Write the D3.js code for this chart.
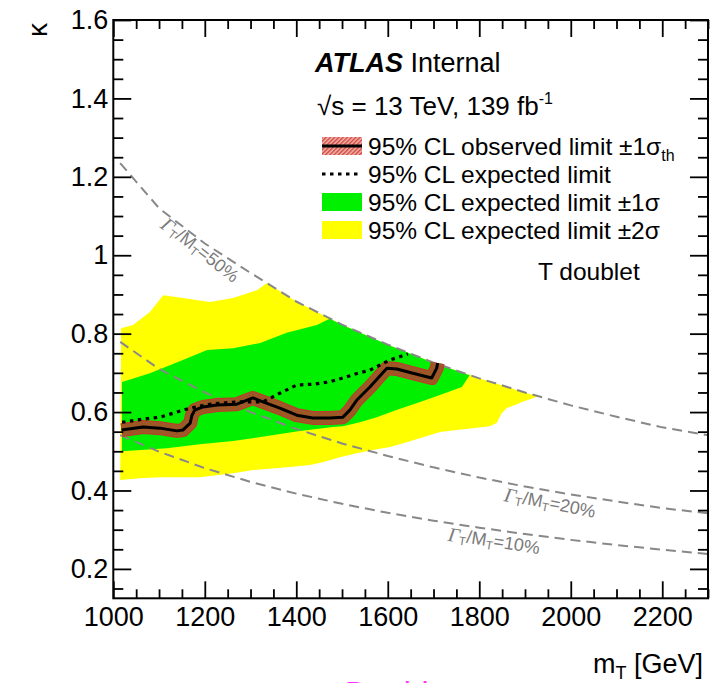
<!DOCTYPE html>
<html>
<head>
<meta charset="utf-8">
<script src="https://cdn.jsdelivr.net/npm/d3@7"></script>
<style>
  body { margin: 0; background: #fff; }
  text { font-family: "Liberation Sans", Arial, sans-serif; }
</style>
</head>
<body>
<svg id="chart"></svg>
<script>
// values: [mass in GeV, kappa]
const obsLimit = [[1018,0.554],[1065,0.562],[1102,0.559],[1139,0.552],[1152,0.554],[1168,0.572],[1172,0.592],
  [1178,0.605],[1196,0.613],[1227,0.618],[1270,0.620],[1283,0.626],[1305,0.636],[1327,0.626],[1364,0.610],
  [1401,0.592],[1436,0.585],[1473,0.585],[1502,0.587],[1517,0.605],[1532,0.630],[1561,0.664],[1598,0.712],
  [1620,0.710],[1655,0.699],[1696,0.687],[1707,0.712],[1709,0.725]];
const expLimit = [[1019,0.574],[1065,0.582],[1102,0.587],[1139,0.600],[1168,0.610],[1211,0.620],[1270,0.626],
  [1327,0.626],[1364,0.648],[1401,0.669],[1436,0.671],[1473,0.677],[1502,0.687],[1535,0.699],[1561,0.707],
  [1605,0.733],[1644,0.748]];
const band1sUpper = [[1019,0.677],[1080,0.699],[1152,0.733],[1205,0.758],[1262,0.763],[1321,0.776],[1379,0.802],
  [1445,0.822],[1473,0.838],[1500,0.823],[1600,0.772],[1700,0.726],[1779,0.694]];
const band1sLower = [[1019,0.500],[1117,0.508],[1189,0.518],[1262,0.526],[1336,0.539],[1408,0.552],[1480,0.562],
  [1502,0.564],[1539,0.574],[1576,0.587],[1619,0.605],[1677,0.628],[1720,0.646],[1762,0.664],[1779,0.694]];
const band2sUpper = [[1017,0.814],[1043,0.822],[1080,0.855],[1109,0.898],[1152,0.891],[1211,0.881],[1262,0.891],
  [1314,0.911],[1336,0.929],[1400,0.882],[1500,0.823],[1600,0.772],[1700,0.726],[1800,0.686],[1900,0.650],[1928,0.640]];
const band2sLower = [[1015,0.427],[1065,0.432],[1109,0.434],[1189,0.434],[1262,0.444],[1305,0.452],[1386,0.460],
  [1430,0.465],[1458,0.472],[1495,0.485],[1532,0.495],[1567,0.503],[1605,0.511],[1641,0.523],[1677,0.536],
  [1714,0.549],[1751,0.554],[1786,0.559],[1823,0.564],[1838,0.572],[1849,0.597],[1860,0.610],[1895,0.626],[1928,0.640]];
const width50 = [[1015,1.235],[1100,1.12],[1200,1.03],[1300,0.955],[1400,0.882],[1500,0.823],[1600,0.772],
  [1700,0.726],[1800,0.686],[1900,0.650],[2000,0.617],[2100,0.588],[2200,0.561],[2300,0.541]];
const width20 = [[1015,0.779],[1100,0.71],[1200,0.65],[1300,0.60],[1400,0.557],[1500,0.52],[1600,0.488],
  [1700,0.459],[1800,0.433],[1900,0.41],[2000,0.39],[2100,0.372],[2200,0.355],[2300,0.342]];
const width10 = [[1015,0.541],[1100,0.499],[1200,0.457],[1300,0.422],[1400,0.392],[1500,0.366],[1600,0.343],
  [1700,0.323],[1800,0.305],[1900,0.289],[2000,0.274],[2100,0.261],[2200,0.249],[2300,0.238]];
const xTicks = [1000,1200,1400,1600,1800,2000,2200];
const yTicks = [0.2,0.4,0.6,0.8,1.0,1.2,1.4,1.6];
const legendLabels = ["95% CL observed limit \u00b11\u03c3", "95% CL expected limit",
  "95% CL expected limit \u00b11\u03c3", "95% CL expected limit \u00b12\u03c3"];

// frame of the plot
var frame = {left: 113.3, right: 708, top: 20, bottom: 598.3};
var svg = d3.select("#chart").attr("width", 710).attr("height", 683);

var x = d3.scaleLinear().domain([1000, 2300]).range([frame.left, frame.right]);
var y = d3.scaleLinear().domain([0.125, 1.6]).range([frame.bottom, frame.top]);

var line = d3.line().x(d => x(d[0])).y(d => y(d[1]));

// hatch patterns for the observed band
var defs = svg.append("defs");
var hp = defs.append("pattern").attr("id", "hatchPlot").attr("patternUnits", "userSpaceOnUse")
    .attr("width", 3).attr("height", 3).attr("patternTransform", "rotate(45)");
hp.append("rect").attr("width", 3).attr("height", 3).attr("fill", "#7d6a22");
hp.append("rect").attr("width", 1.3).attr("height", 3).attr("fill", "#c8402c");
var hl = defs.append("pattern").attr("id", "hatchLeg").attr("patternUnits", "userSpaceOnUse")
    .attr("width", 3).attr("height", 3).attr("patternTransform", "rotate(45)");
hl.append("rect").attr("width", 3).attr("height", 3).attr("fill", "#f2b5b0");
hl.append("rect").attr("width", 1.4).attr("height", 3).attr("fill", "#d0453a");
defs.append("clipPath").attr("id", "clip").append("rect")
    .attr("x", frame.left).attr("y", frame.top)
    .attr("width", frame.right - frame.left).attr("height", frame.bottom - frame.top);

var plot = svg.append("g").attr("clip-path", "url(#clip)");

// expected bands
plot.append("path")
    .attr("d", line(band2sUpper.concat(band2sLower.slice().reverse())) + "Z")
    .attr("fill", "#ffff00");
plot.append("path")
    .attr("d", line(band1sUpper.concat(band1sLower.slice().reverse())) + "Z")
    .attr("fill", "#00f000");

// width contours
[width50, width20, width10].forEach(function(w) {
  plot.append("path").attr("d", line(w))
      .attr("fill", "none").attr("stroke", "#888").attr("stroke-width", 2)
      .attr("stroke-dasharray", "10,6");
});

function widthLabel(cx, cy, angle, pct) {
  var t = svg.append("text")
      .attr("transform", "translate(" + cx + "," + cy + ") rotate(" + angle + ")")
      .attr("text-anchor", "middle").attr("dominant-baseline", "central")
      .attr("fill", "#7a7a7a").attr("font-size", 18);
  t.append("tspan").attr("font-family", "Liberation Serif, serif").attr("font-style", "italic")
      .attr("font-size", 20).text("\u0393");
  t.append("tspan").attr("font-size", 12).attr("dy", 5).text("T");
  t.append("tspan").attr("dy", -5).text("/M");
  t.append("tspan").attr("font-size", 12).attr("dy", 5).text("T");
  t.append("tspan").attr("dy", -5).text("=" + pct + "%");
}
widthLabel(200, 250, 38, 50);
widthLabel(550, 503, 11, 20);
widthLabel(494, 541, 9, 10);

// observed band, expected and observed lines
plot.append("path").attr("d", line(obsLimit))
    .attr("fill", "none").attr("stroke", "#c0392b").attr("stroke-width", 14)
    .attr("stroke-linejoin", "round").attr("stroke-linecap", "butt");
plot.append("path").attr("d", line(obsLimit))
    .attr("fill", "none").attr("stroke", "url(#hatchPlot)").attr("stroke-width", 12)
    .attr("stroke-linejoin", "round").attr("stroke-linecap", "butt");
plot.append("path").attr("d", line(expLimit))
    .attr("fill", "none").attr("stroke", "#000").attr("stroke-width", 3.2)
    .attr("stroke-dasharray", "3.5,4.5");
plot.append("path").attr("d", line(obsLimit))
    .attr("fill", "none").attr("stroke", "#000").attr("stroke-width", 3)
    .attr("stroke-linejoin", "round");

// axes with inward ticks on all sides
var xMinor = d3.range(1000, 2301, 50).filter(v => v % 200 !== 0);
var yMinor = d3.range(0.15, 1.6, 0.05).filter(v => Math.abs(v * 5 - Math.round(v * 5)) > 0.01);

svg.append("g").attr("class", "axis").attr("transform", "translate(0," + frame.bottom + ")")
    .call(d3.axisBottom(x).tickValues(xTicks).tickSize(-17).tickPadding(9).tickFormat(d3.format("d")));
svg.append("g").attr("class", "axis").attr("transform", "translate(0," + frame.bottom + ")")
    .call(d3.axisBottom(x).tickValues(xMinor).tickSize(-9).tickFormat(""));
svg.append("g").attr("class", "axis").attr("transform", "translate(0," + frame.top + ")")
    .call(d3.axisTop(x).tickValues(xTicks).tickSize(-17).tickFormat(""));
svg.append("g").attr("class", "axis").attr("transform", "translate(0," + frame.top + ")")
    .call(d3.axisTop(x).tickValues(xMinor).tickSize(-9).tickFormat(""));
svg.append("g").attr("class", "axis").attr("transform", "translate(" + frame.left + ",0)")
    .call(d3.axisLeft(y).tickValues(yTicks).tickSize(-18).tickPadding(5)
      .tickFormat(d => String(+d.toFixed(1))));
svg.append("g").attr("class", "axis").attr("transform", "translate(" + frame.left + ",0)")
    .call(d3.axisLeft(y).tickValues(yMinor).tickSize(-10).tickFormat(""));
svg.append("g").attr("class", "axis").attr("transform", "translate(" + frame.right + ",0)")
    .call(d3.axisRight(y).tickValues(yTicks).tickSize(-18).tickFormat(""));
svg.append("g").attr("class", "axis").attr("transform", "translate(" + frame.right + ",0)")
    .call(d3.axisRight(y).tickValues(yMinor).tickSize(-10).tickFormat(""));

svg.selectAll(".axis .domain").remove();
svg.selectAll(".axis line").attr("stroke", "#000").attr("stroke-width", 1.8);
svg.selectAll(".axis text").attr("font-size", 27).attr("fill", "#000")
    .style("font-family", "Liberation Sans, Arial, sans-serif");

svg.append("rect")
    .attr("x", frame.left).attr("y", frame.top)
    .attr("width", frame.right - frame.left).attr("height", frame.bottom - frame.top)
    .attr("fill", "none").attr("stroke", "#000").attr("stroke-width", 2);

// axis titles
svg.append("text").attr("transform", "translate(37,30) rotate(-90)")
    .attr("text-anchor", "middle").attr("dominant-baseline", "central")
    .attr("font-size", 28).text("\u03ba");
var xt = svg.append("text").attr("x", 703).attr("y", 673).attr("text-anchor", "end").attr("font-size", 27);
xt.append("tspan").text("m");
xt.append("tspan").attr("font-size", 18).attr("dy", 6).text("T");
xt.append("tspan").attr("dy", -6).text(" [GeV]");

// ATLAS label
var at = svg.append("text").attr("x", 315).attr("y", 72).attr("font-size", 27);
at.append("tspan").attr("font-weight", "bold").attr("font-style", "italic").text("ATLAS");
at.append("tspan").text(" Internal");
var en = svg.append("text").attr("x", 317).attr("y", 115).attr("font-size", 26);
en.append("tspan").text("\u221as = 13 TeV, 139 fb");
en.append("tspan").attr("font-size", 16).attr("dy", -11).text("-1");

// legend
var rows = [146, 174, 202, 230];
var leg = svg.append("g");
leg.append("rect").attr("x", 322).attr("y", rows[0] - 9).attr("width", 40).attr("height", 18)
    .attr("fill", "url(#hatchLeg)");
leg.append("line").attr("x1", 322).attr("x2", 362).attr("y1", rows[0]).attr("y2", rows[0])
    .attr("stroke", "#000").attr("stroke-width", 3);
leg.append("line").attr("x1", 322).attr("x2", 362).attr("y1", rows[1]).attr("y2", rows[1])
    .attr("stroke", "#000").attr("stroke-width", 3.2).attr("stroke-dasharray", "3.5,4.5");
leg.append("rect").attr("x", 322).attr("y", rows[2] - 9).attr("width", 40).attr("height", 18)
    .attr("fill", "#00f000");
leg.append("rect").attr("x", 322).attr("y", rows[3] - 9).attr("width", 40).attr("height", 18)
    .attr("fill", "#ffff00");
legendLabels.forEach(function(s, i) {
  var t = leg.append("text").attr("x", 368).attr("y", rows[i] + 8.5).attr("font-size", 24.5).text(s);
  if (i === 0) t.append("tspan").attr("font-size", 16).attr("dy", 6).text("th");
});

svg.append("text").attr("x", 538).attr("y", 280).attr("font-size", 24.5).text("T doublet");

// cut-off label at the bottom edge
svg.append("text").attr("x", 345).attr("y", 704).attr("font-size", 32)
    .attr("fill", "#ff33ff").text("Doublet");
</script>
</body>
</html>
